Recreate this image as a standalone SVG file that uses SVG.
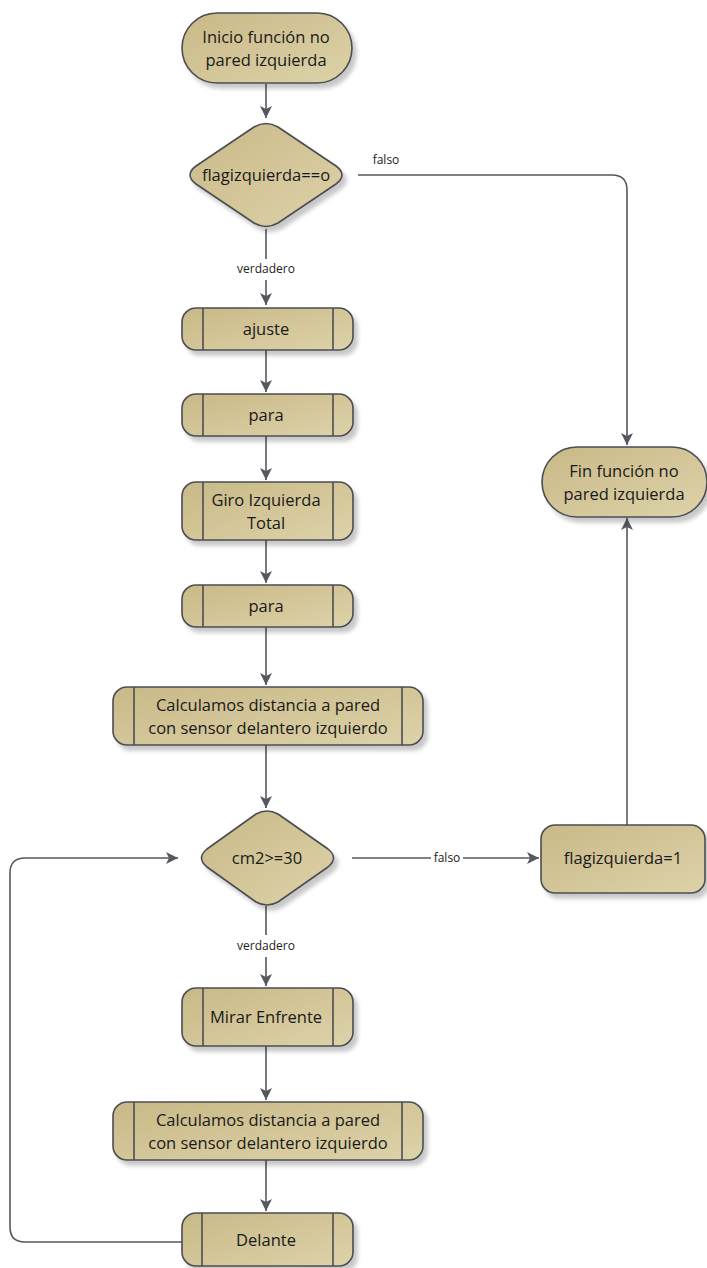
<svg xmlns="http://www.w3.org/2000/svg" width="707" height="1268" viewBox="0 0 707 1268">
  <defs>
    <linearGradient id="fillGrad" x1="0" y1="0" x2="1" y2="1">
      <stop offset="0" stop-color="#c9b987"/>
      <stop offset="1" stop-color="#ddd2a9"/>
    </linearGradient>
    <filter id="shadow" x="-10%" y="-10%" width="130%" height="140%">
      <feGaussianBlur in="SourceAlpha" stdDeviation="2"/>
      <feOffset dx="4" dy="5" result="off"/>
      <feComponentTransfer><feFuncA type="linear" slope="0.22"/></feComponentTransfer>
      <feMerge><feMergeNode/><feMergeNode in="SourceGraphic"/></feMerge>
    </filter>
    <marker id="arrow" viewBox="0 0 12 12" refX="12" refY="6" markerWidth="12" markerHeight="12" markerUnits="userSpaceOnUse" orient="auto">
      <path d="M0,0 L12,6 L0,12 L3,6 Z" fill="#55585f"/>
    </marker>
  </defs>
  <style>
    .shape { fill: url(#fillGrad); stroke: #4b4d53; stroke-width: 1.6; filter: url(#shadow); }
    .inner { stroke: #4b4d53; stroke-width: 1.6; fill: none; }
    .txt { font-family: "Open Sans", "Noto Sans", "Liberation Sans", sans-serif; font-size: 16.5px; fill: #1a1a1a; text-anchor: middle; }
    .lbl { font-family: "Open Sans", "Noto Sans", "Liberation Sans", sans-serif; font-size: 12px; fill: #222; text-anchor: middle; }
    .conn { fill: none; stroke: #55585f; stroke-width: 1.6; }
  </style>
  <rect width="707" height="1268" fill="#ffffff"/>

  <!-- connectors -->
  <g id="connectors">
    <path class="conn" d="M266,84 L266,118" marker-end="url(#arrow)"/>
    <path class="conn" d="M358,175 L612,175 Q627,175 627,190 L627,445" marker-end="url(#arrow)"/>
    <text class="lbl" x="386" y="164">falso</text>
    <path class="conn" d="M266,229 L266,259"/>
    <text class="lbl" x="266" y="273">verdadero</text>
    <path class="conn" d="M266,280 L266,305" marker-end="url(#arrow)"/>
    <path class="conn" d="M266,350 L266,392" marker-end="url(#arrow)"/>
    <path class="conn" d="M266,436 L266,480" marker-end="url(#arrow)"/>
    <path class="conn" d="M266,540 L266,583" marker-end="url(#arrow)"/>
    <path class="conn" d="M266,627 L266,685" marker-end="url(#arrow)"/>
    <path class="conn" d="M266,745 L266,808" marker-end="url(#arrow)"/>
    <path class="conn" d="M352,858 L539,858" marker-end="url(#arrow)"/>
    <rect x="431" y="850" width="32" height="15" fill="#ffffff"/>
    <text class="lbl" x="447" y="862">falso</text>
    <path class="conn" d="M627,825 L627,518" marker-end="url(#arrow)"/>
    <path class="conn" d="M266,906 L266,935"/>
    <text class="lbl" x="266" y="950">verdadero</text>
    <path class="conn" d="M266,957 L266,986" marker-end="url(#arrow)"/>
    <path class="conn" d="M266,1046 L266,1100" marker-end="url(#arrow)"/>
    <path class="conn" d="M266,1160 L266,1211" marker-end="url(#arrow)"/>
    <path class="conn" d="M182,1242 L25,1242 Q10,1242 10,1227 L10,873 Q10,858 25,858 L178,858" marker-end="url(#arrow)"/>
  </g>

  <!-- start terminator -->
  <g id="inicio">
    <rect class="shape" x="182" y="13" width="170" height="70" rx="35" ry="35"/>
    <text class="txt" x="266" y="43">Inicio función no</text>
    <text class="txt" x="266" y="66">pared izquierda</text>
  </g>

  <!-- decision: flag -->
  <g id="decision-flag">
    <path class="shape" d="M254,127 Q266,120 278,127 L336,166 Q348,175 336,184 L278,223 Q266,230 254,223 L196,184 Q184,175 196,166 Z"/>
    <text class="txt" x="266" y="181">flagizquierda==o</text>
  </g>

  <g id="ajuste">
    <rect class="shape" x="182" y="308" width="171" height="42" rx="14" ry="14"/>
    <line class="inner" x1="203" y1="308" x2="203" y2="350"/>
    <line class="inner" x1="333" y1="308" x2="333" y2="350"/>
    <text class="txt" x="266" y="335">ajuste</text>
  </g>

  <g id="para1">
    <rect class="shape" x="182" y="394" width="171" height="42" rx="14" ry="14"/>
    <line class="inner" x1="203" y1="394" x2="203" y2="436"/>
    <line class="inner" x1="333" y1="394" x2="333" y2="436"/>
    <text class="txt" x="266" y="421">para</text>
  </g>

  <g id="giro">
    <rect class="shape" x="182" y="482" width="171" height="58" rx="14" ry="14"/>
    <line class="inner" x1="203" y1="482" x2="203" y2="540"/>
    <line class="inner" x1="333" y1="482" x2="333" y2="540"/>
    <text class="txt" x="266" y="506">Giro Izquierda</text>
    <text class="txt" x="266" y="529">Total</text>
  </g>

  <g id="para2">
    <rect class="shape" x="182" y="585" width="171" height="42" rx="14" ry="14"/>
    <line class="inner" x1="203" y1="585" x2="203" y2="627"/>
    <line class="inner" x1="333" y1="585" x2="333" y2="627"/>
    <text class="txt" x="266" y="612">para</text>
  </g>

  <g id="calculo1">
    <rect class="shape" x="113" y="687" width="310" height="58" rx="14" ry="14"/>
    <line class="inner" x1="134" y1="687" x2="134" y2="745"/>
    <line class="inner" x1="402" y1="687" x2="402" y2="745"/>
    <text class="txt" x="268" y="711">Calculamos distancia a pared</text>
    <text class="txt" x="268" y="734">con sensor delantero izquierdo</text>
  </g>

  <!-- decision: distance -->
  <g id="decision-cm2">
    <path class="shape" d="M256,814 Q267,808 278,814 L328,849 Q339,858 328,867 L278,902 Q267,908 256,902 L207,867 Q196,858 207,849 Z"/>
    <text class="txt" x="267" y="864">cm2&gt;=30</text>
  </g>

  <g id="flag-set">
    <rect class="shape" x="541" y="825" width="164" height="68" rx="14" ry="14"/>
    <text class="txt" x="623" y="864">flagizquierda=1</text>
  </g>

  <!-- end terminator -->
  <g id="fin">
    <rect class="shape" x="542" y="447" width="165" height="70" rx="35" ry="35"/>
    <text class="txt" x="624" y="477">Fin función no</text>
    <text class="txt" x="624" y="500">pared izquierda</text>
  </g>

  <g id="mirar">
    <rect class="shape" x="182" y="988" width="171" height="58" rx="14" ry="14"/>
    <line class="inner" x1="203" y1="988" x2="203" y2="1046"/>
    <line class="inner" x1="333" y1="988" x2="333" y2="1046"/>
    <text class="txt" x="266" y="1023">Mirar Enfrente</text>
  </g>

  <g id="calculo2">
    <rect class="shape" x="113" y="1102" width="310" height="58" rx="14" ry="14"/>
    <line class="inner" x1="134" y1="1102" x2="134" y2="1160"/>
    <line class="inner" x1="402" y1="1102" x2="402" y2="1160"/>
    <text class="txt" x="268" y="1126">Calculamos distancia a pared</text>
    <text class="txt" x="268" y="1149">con sensor delantero izquierdo</text>
  </g>

  <g id="delante">
    <rect class="shape" x="182" y="1213" width="171" height="53" rx="14" ry="14"/>
    <line class="inner" x1="202" y1="1213" x2="202" y2="1266"/>
    <line class="inner" x1="333" y1="1213" x2="333" y2="1266"/>
    <text class="txt" x="266" y="1246">Delante</text>
  </g>
</svg>
